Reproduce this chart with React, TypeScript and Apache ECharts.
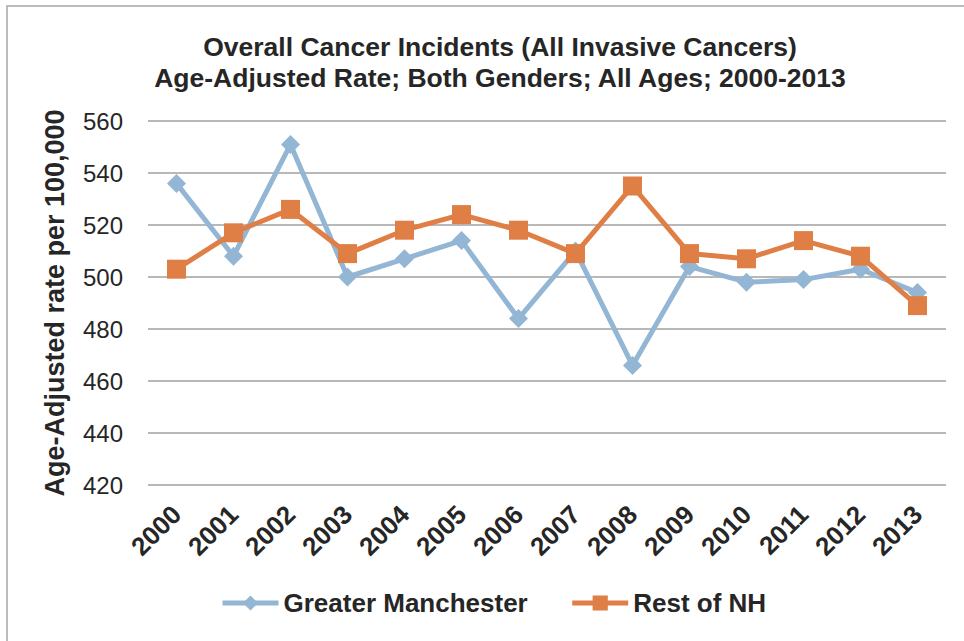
import React, { useEffect, useRef } from "react";
import * as echarts from "echarts";

const years = ["2000","2001","2002","2003","2004","2005","2006","2007","2008","2009","2010","2011","2012","2013"];
const greaterManchester = [536, 508, 551, 500, 507, 514, 484, 510, 466, 504, 498, 499, 503, 494];
const restOfNH = [503, 517, 526, 509, 518, 524, 518, 509, 535, 509, 507, 514, 508, 489];
const titleLines = ["Overall Cancer Incidents (All Invasive Cancers)", "Age-Adjusted Rate; Both Genders; All Ages; 2000-2013"];
const yAxisName = "Age-Adjusted rate per 100,000";
const seriesNames = ["Greater Manchester", "Rest of NH"];

const FONT = "Arial, 'Liberation Sans', Helvetica, sans-serif";

export default function App() {
  const ref = useRef<HTMLDivElement>(null);
  useEffect(() => {
    if (!ref.current) return;
    const chart = echarts.init(ref.current, null, { renderer: "svg" });
    chart.setOption({
      animation: false,
      backgroundColor: "#ffffff",
      title: {
        text: titleLines.join("\n"),
        left: 495,
        top: 26,
        textAlign: "center",
        textStyle: { fontFamily: FONT, fontSize: 26.5, fontWeight: "bold", lineHeight: 31, color: "#262626" },
      },
      graphic: [
        {
          type: "rect",
          shape: { x: 7, y: 6, width: 1000, height: 700 },
          style: { fill: "none", stroke: "#A6A6A6", lineWidth: 1.5 },
          silent: true,
        },
      ],
      grid: { left: 148, right: 18, top: 121, bottom: 156 },
      legend: {
        bottom: 20,
        left: 215,
        itemWidth: 56,
        itemHeight: 19,
        itemGap: 42,
        lineStyle: { width: 5 },
        textStyle: { fontFamily: FONT, fontSize: 26, fontWeight: "bold", color: "#262626" },
        data: seriesNames,
      },
      xAxis: {
        type: "category",
        data: years,
        boundaryGap: true,
        axisLine: { show: false },
        axisTick: { show: false },
        axisLabel: { rotate: 45, interval: 0, margin: 25, fontFamily: FONT, fontSize: 26, fontWeight: "bold", color: "#262626" },
      },
      yAxis: {
        type: "value",
        min: 420,
        max: 560,
        interval: 20,
        name: yAxisName,
        nameLocation: "middle",
        nameGap: 80,
        nameTextStyle: { fontFamily: FONT, fontSize: 27, fontWeight: "bold", color: "#262626" },
        axisLine: { show: false },
        axisTick: { show: false },
        axisLabel: { margin: 25, fontFamily: FONT, fontSize: 24, color: "#262626" },
        splitLine: { lineStyle: { color: "#A0A0A0", width: 1.5 } },
      },
      series: [
        {
          name: seriesNames[0],
          type: "line",
          data: greaterManchester,
          symbol: "diamond",
          symbolSize: 19,
          lineStyle: { color: "#93B6D4", width: 5 },
          itemStyle: { color: "#93B6D4" },
          z: 2,
        },
        {
          name: seriesNames[1],
          type: "line",
          data: restOfNH,
          symbol: "rect",
          symbolSize: 19,
          lineStyle: { color: "#E07F45", width: 5 },
          itemStyle: { color: "#E07F45" },
          z: 3,
        },
      ],
    });
    return () => chart.dispose();
  }, []);
  return (
    <div
      ref={ref}
      style={{ position: "fixed", left: 0, top: 0, width: 964, height: 641, background: "#fff" }}
    />
  );
}
